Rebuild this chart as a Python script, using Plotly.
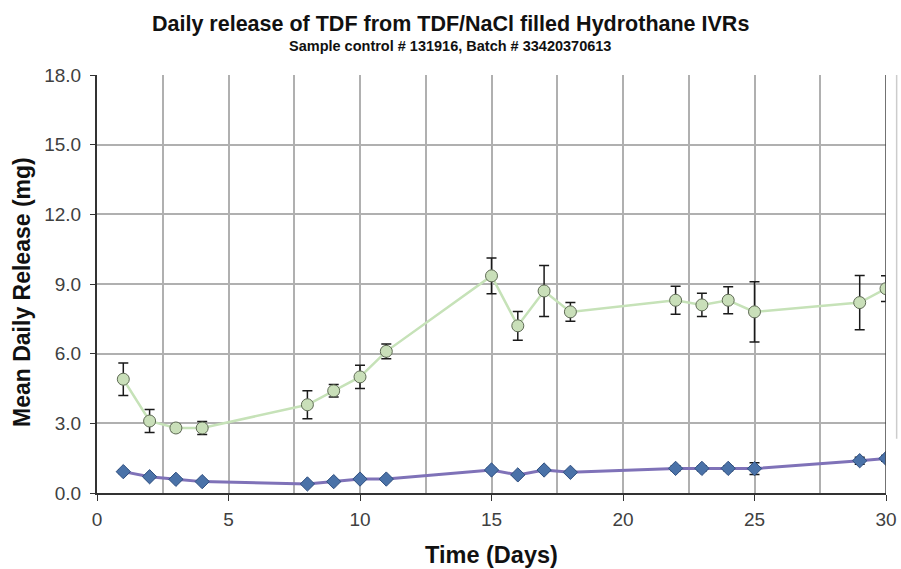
import plotly.graph_objects as go

days = [1, 2, 3, 4, 8, 9, 10, 11, 15, 16, 17, 18, 22, 23, 24, 25, 29, 30]
green_mean = [4.9, 3.1, 2.8, 2.8, 3.8, 4.4, 5.0, 6.1, 9.35, 7.2, 8.7, 7.8, 8.3, 8.1, 8.3, 7.8, 8.2, 8.8]
green_err = [0.7, 0.5, 0.15, 0.28, 0.6, 0.27, 0.5, 0.32, 0.77, 0.62, 1.1, 0.4, 0.6, 0.5, 0.58, 1.3, 1.17, 0.55]
blue_mean = [0.92, 0.7, 0.59, 0.49, 0.39, 0.49, 0.6, 0.6, 0.99, 0.78, 0.99, 0.89, 1.06, 1.06, 1.06, 1.05, 1.39, 1.49]
blue_err = [0.08, 0.06, 0.05, 0.05, 0.05, 0.05, 0.06, 0.06, 0.08, 0.06, 0.08, 0.07, 0.1, 0.1, 0.1, 0.25, 0.15, 0.12]

title_text = "Daily release of TDF from TDF/NaCl filled Hydrothane IVRs"
subtitle_text = "Sample control # 131916, Batch # 33420370613"
x_title = "Time (Days)"
y_title = "Mean Daily Release (mg)"

FONT = "Arial, Liberation Sans, sans-serif"

fig = go.Figure()
fig.add_trace(go.Scatter(
    x=days, y=green_mean, mode="lines+markers",
    line=dict(color="#c6e2b8", width=2.5),
    marker=dict(symbol="circle", size=12, color="#c9dfb9", line=dict(color="#5f6b55", width=1)),
    error_y=dict(type="data", array=green_err, color="#1a1a1a", thickness=1.5, width=5),
    showlegend=False,
))
fig.add_trace(go.Scatter(
    x=days, y=blue_mean, mode="lines+markers",
    line=dict(color="#7f72b8", width=3),
    marker=dict(symbol="diamond", size=11, color="#4a72a8", line=dict(color="#2f4f80", width=1)),
    error_y=dict(type="data", array=blue_err, color="#1a1a1a", thickness=1.5, width=5),
    showlegend=False,
))

fig.update_layout(
    width=901, height=569,
    margin=dict(l=97, r=15, t=75, b=76),
    paper_bgcolor="white", plot_bgcolor="white",
    font=dict(family=FONT, color="#222"),
    xaxis=dict(
        range=[0, 30], dtick=5, tick0=0, automargin=False,
        showgrid=True, gridcolor="#b0b0b0", gridwidth=1.5,
        minor=dict(dtick=2.5, showgrid=True, gridcolor="#b0b0b0", gridwidth=1.5),
        showline=True, linecolor="#333", linewidth=2, mirror=False,
        ticks="outside", ticklen=6, tickcolor="#333", ticklabelstandoff=2,
        tickfont=dict(size=19, family=FONT, color="#404040"),
        title=dict(text="<b>" + x_title + "</b>", font=dict(size=23.5, family=FONT, color="#111"), standoff=18),
        zeroline=False,
    ),
    yaxis=dict(
        range=[0, 18], dtick=3, tick0=0, tickformat=".1f", automargin=False,
        showgrid=True, gridcolor="#b0b0b0", gridwidth=1.5,
        showline=True, linecolor="#333", linewidth=2,
        ticks="outside", ticklen=5, tickcolor="#333", ticklabelstandoff=5,
        tickfont=dict(size=19, family=FONT, color="#404040"),
        zeroline=False,
    ),
    annotations=[
        dict(text="<b>" + title_text + "</b>", xref="paper", yref="paper",
             x=0.448, y=1.123, xanchor="center", yanchor="middle", showarrow=False,
             font=dict(size=21.5, family=FONT, color="#111")),
        dict(text="<b>" + subtitle_text + "</b>", xref="paper", yref="paper",
             x=0.448, y=1.069, xanchor="center", yanchor="middle", showarrow=False,
             font=dict(size=14.5, family=FONT, color="#111")),
        dict(text="<b>" + y_title + "</b>", xref="paper", yref="paper",
             x=-0.095, y=0.481, xanchor="center", yanchor="middle", showarrow=False,
             textangle=-90, font=dict(size=23, family=FONT, color="#111")),
    ],
)

fig.add_shape(type="line", xref="x", yref="y", x0=30, x1=30, y0=0, y1=18,
              line=dict(color="#444", width=1.5))
fig.add_shape(type="line", xref="paper", yref="paper", x0=1.0135, x1=1.0135, y0=0.13, y1=1.0,
              line=dict(color="#cccccc", width=1.5))

fig.write_html("out.html", config={"displayModeBar": False},
               post_script="document.body.style.margin='0';")
